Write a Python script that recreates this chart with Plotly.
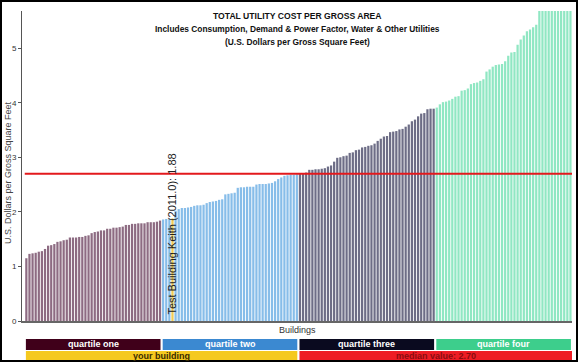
import plotly.graph_objects as go

# ---------------- data ----------------
q1 = [1.15, 1.23, 1.24, 1.25, 1.27, 1.28, 1.32, 1.38, 1.39, 1.41, 1.45, 1.46,
      1.48, 1.49, 1.53, 1.53, 1.53, 1.54, 1.54, 1.56, 1.57, 1.61, 1.63, 1.64,
      1.66, 1.66, 1.69, 1.69, 1.71, 1.71, 1.72, 1.73, 1.76, 1.76, 1.78, 1.78,
      1.79, 1.79, 1.79, 1.81, 1.81, 1.81, 1.82, 1.84]
q2 = [1.86, 1.87, 1.87, 1.88, 2.02, 2.05, 2.07, 2.07, 2.08, 2.09, 2.11, 2.12,
      2.12, 2.13, 2.16, 2.18, 2.19, 2.20, 2.22, 2.23, 2.32, 2.33, 2.34, 2.35,
      2.44, 2.45, 2.45, 2.46, 2.46, 2.46, 2.50, 2.51, 2.51, 2.51, 2.52, 2.53,
      2.56, 2.60, 2.63, 2.66, 2.67, 2.68, 2.68, 2.69]
q3 = [2.70, 2.71, 2.72, 2.77, 2.77, 2.78, 2.78, 2.79, 2.80, 2.83, 2.85, 2.92,
      2.99, 3.00, 3.02, 3.03, 3.08, 3.09, 3.13, 3.14, 3.18, 3.19, 3.21, 3.22,
      3.25, 3.30, 3.34, 3.38, 3.39, 3.46, 3.47, 3.48, 3.51, 3.52, 3.56, 3.60,
      3.66, 3.69, 3.75, 3.80, 3.81, 3.88, 3.89, 3.89]
# last bars exceed the axis range and are cut off at the top in the reference
q4 = [3.91, 3.97, 4.01, 4.02, 4.04, 4.07, 4.11, 4.12, 4.22, 4.23, 4.26, 4.34,
      4.36, 4.37, 4.40, 4.43, 4.57, 4.61, 4.66, 4.69, 4.70, 4.71, 4.76, 4.86,
      4.92, 4.93, 5.06, 5.16, 5.23, 5.31, 5.34, 5.38, 5.43, 5.9, 6.1, 6.4,
      6.8, 7.3, 7.9, 8.6, 9.5, 10.8, 12.5, 15.2]
quartiles = [q1, q2, q3, q4]
quartile_names = ["quartile one", "quartile two", "quartile three", "quartile four"]
test_index = 47
test_label = "Test Building Keith (2011.0): 1.88"
median_value = 2.70
y_ticks = [0, 1, 2, 3, 4, 5]

title_lines = ["TOTAL UTILITY COST PER GROSS AREA",
               "Includes Consumption, Demand & Power Factor, Water & Other Utilities",
               "(U.S. Dollars per Gross Square Feet)"]

# ---------------- styles ----------------
bar_colors = ["#8d6b82", "#87bde9", "#6d6d86", "#90e7c3"]
legend_colors = ["#40001a", "#3b89d1", "#0a0a1f", "#3dce8c"]
test_color = "#f1cc55"
W, H = 578, 362
ML, MR, MT, MB = 22, 6, 11, 41
PW, PH = W - ML - MR, H - MT - MB


def px_x(px):
    return (px - ML) / PW


def px_y(py):
    return (H - MB - py) / PH


values, colors = [], []
for qi, q in enumerate(quartiles):
    for v in q:
        values.append(v)
        colors.append(bar_colors[qi])
colors[test_index] = test_color
n = len(values)
xs = list(range(n))

fig = go.Figure(go.Bar(x=xs, y=values, marker=dict(color=colors, line=dict(width=0)),
                       hoverinfo="skip"))

sans = "Liberation Sans, Arial, sans-serif"

annotations = []
for i, (line, py) in enumerate(zip(title_lines, [16, 29, 42])):
    annotations.append(dict(text="<b>%s</b>" % line, x=0.5, y=px_y(py), xref="paper", yref="paper",
                            showarrow=False, xanchor="center", yanchor="middle",
                            font=dict(family=sans, size=8.6 if i == 0 else 8.4, color="#111")))

annotations.append(dict(text=test_label, x=test_index, y=0.08, xref="x", yref="y",
                        showarrow=False, textangle=-90, xanchor="center", yanchor="bottom",
                        font=dict(family=sans, size=11, color="#222")))
annotations.append(dict(text="Buildings", x=0.5, y=px_y(330), xref="paper", yref="paper",
                        showarrow=False, xanchor="center", yanchor="middle",
                        font=dict(family=sans, size=9, color="#333")))
annotations.append(dict(text="U.S. Dollars per Gross Square Feet", x=px_x(8), y=px_y(173),
                        xref="paper", yref="paper", showarrow=False, textangle=-90,
                        xanchor="center", yanchor="middle",
                        font=dict(family=sans, size=9, color="#444")))

shapes = []
# median line
shapes.append(dict(type="line", xref="paper", yref="y", x0=0.005, x1=1, y0=median_value,
                   y1=median_value, line=dict(color="#e3191c", width=2)))
# quartile legend boxes
per_q = len(q1)
r1_top, r1_bot = px_y(339), px_y(350)
r2_top, r2_bot = px_y(351), px_y(361)
for qi in range(4):
    x0 = qi * per_q - 0.5 + 0.35
    x1 = (qi + 1) * per_q - 0.5 - 0.35
    shapes.append(dict(type="rect", xref="x", yref="paper", x0=x0, x1=x1, y0=r1_bot, y1=r1_top,
                       fillcolor=legend_colors[qi], line=dict(width=0)))
    annotations.append(dict(text="<b>%s</b>" % quartile_names[qi], x=(x0 + x1) / 2,
                            y=(r1_bot + r1_top) / 2, xref="x", yref="paper", showarrow=False,
                            xanchor="center", yanchor="middle",
                            font=dict(family=sans, size=9, color="white")))
half = 2 * per_q
for (x0, x1, fc, txt, tc) in [(-0.15, half - 0.85, "#f5c91f", "your building", "#3a2c00"),
                              (half - 0.15, n - 0.15, "#ee1c24", "median value: 2.70", "#8a0c10")]:
    shapes.append(dict(type="rect", xref="x", yref="paper", x0=x0, x1=x1, y0=r2_bot, y1=r2_top,
                       fillcolor=fc, line=dict(width=0)))
    annotations.append(dict(text="<b>%s</b>" % txt, x=(x0 + x1) / 2, y=(r2_bot + r2_top) / 2,
                            xref="x", yref="paper", showarrow=False, xanchor="center",
                            yanchor="middle", font=dict(family=sans, size=9, color=tc)))
# outer frame
shapes.append(dict(type="rect", xref="paper", yref="paper", x0=px_x(1), x1=px_x(577),
                   y0=px_y(361), y1=px_y(1), line=dict(color="black", width=2),
                   fillcolor="rgba(0,0,0,0)", layer="above"))

fig.update_layout(
    width=W, height=H, margin=dict(l=ML, r=MR, t=MT, b=MB, autoexpand=False),
    paper_bgcolor="white", plot_bgcolor="white", showlegend=False,
    bargap=0.28,
    xaxis=dict(range=[-1.4, n - 0.5], showticklabels=False, ticks="", showgrid=False,
               zeroline=False, showline=True, linecolor="#666", linewidth=2),
    yaxis=dict(range=[0, 5.68], tickvals=y_ticks, ticks="outside", ticklen=3, tickcolor="#555",
               tickfont=dict(family=sans, size=8, color="#333"), showgrid=False, zeroline=False,
               showline=True, linecolor="#555", linewidth=1, automargin=False),
    annotations=annotations, shapes=shapes,
)

fig.write_html("out.html", config={"displayModeBar": False, "staticPlot": True},
               post_script="document.body.style.margin='0';")
